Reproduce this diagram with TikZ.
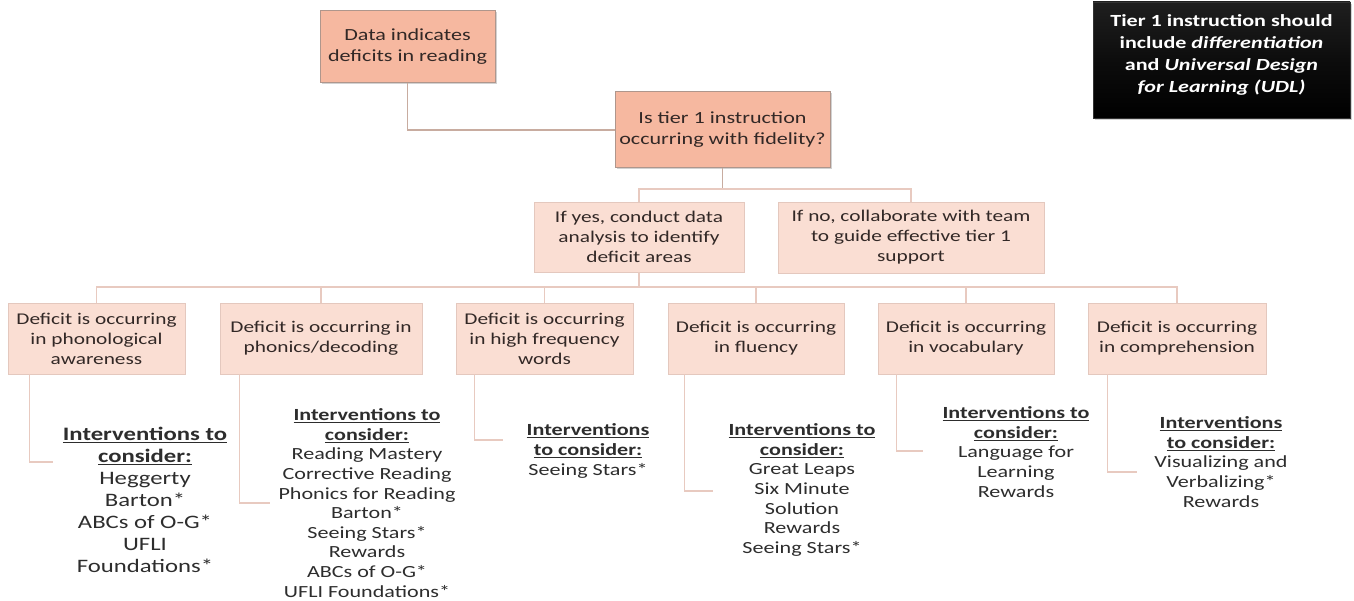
\documentclass[tikz,border=0pt]{standalone}
\usepackage{fontspec}
\setmainfont{Carlito}[FakeStretch=1.3]
\usetikzlibrary{shadows}
\definecolor{topfill}{RGB}{246,184,160}
\definecolor{topdraw}{RGB}{175,150,140}
\definecolor{lowfill}{RGB}{250,222,211}
\definecolor{lowdraw}{RGB}{228,200,190}
\definecolor{conntop}{RGB}{200,172,160}
\definecolor{connlow}{RGB}{232,202,192}
\definecolor{boxtext}{RGB}{50,40,38}
\definecolor{inttext}{RGB}{45,45,45}
\tikzset{
  topbox/.style={draw=topdraw, fill=topfill, line width=1pt, inner sep=0pt, align=center,
    text=boxtext, font=\fontsize{17}{21}\selectfont,
    drop shadow={opacity=0.35, shadow xshift=1.5pt, shadow yshift=-1.5pt}},
  lowbox/.style={draw=lowdraw, fill=lowfill, line width=0.8pt, inner sep=0pt, align=center,
    text=boxtext, font=\fontsize{16.4}{20}\selectfont},
  conna/.style={draw=conntop, line width=1.4pt},
  connb/.style={draw=connlow, line width=1.4pt},
  inter/.style={align=center, text=inttext, inner sep=0pt, font=\fontsize{17}{19.6}\selectfont},
  interbig/.style={align=center, text=inttext, inner sep=0pt, font=\fontsize{19}{22}\selectfont},
  notebox/.style={draw=black!80, top color=black!88, bottom color=black, middle color=black!95,
    line width=0.6pt, inner sep=0pt,
    drop shadow={opacity=0.35, shadow xshift=2pt, shadow yshift=-2pt}},
  notetext/.style={label distance=0pt, yshift=5pt, inner sep=0pt, align=center, text=white,
    font=\bfseries\fontsize{17}{21.7}\selectfont}
}
\newcommand{\hd}[1]{\textbf{\underline{#1}}}
\begin{document}
\begin{tikzpicture}[x=1pt,y=-1pt]
\useasboundingbox (0,0) rectangle (1354,601);
\fill[white] (0,0) rectangle (1354,601);

% top boxes
\node[topbox, minimum width=175pt, minimum height=72pt] (data) at (407.5,47) {Data indicates\\deficits in reading};
\node[topbox, minimum width=215pt, minimum height=76pt] (q) at (722.5,130) {Is tier 1 instruction\\occurring with fidelity?};

% note box
\node[notebox, minimum width=257pt, minimum height=116pt,
  label={[notetext]center:Tier 1 instruction should\\include \textit{differentiation}\\and \textit{Universal Design}\\\textit{for Learning (UDL)}}] (note) at (1221.5,60) {};

% second row
\node[lowbox, minimum width=210pt, minimum height=70pt] (yes) at (639,237) {If yes, conduct data\\analysis to identify\\deficit areas};
\node[lowbox, minimum width=266pt, minimum height=71pt] (no) at (911,237.5) {If no, collaborate with team\\to guide effective tier 1\\support};

% deficit row
\node[lowbox, minimum width=177pt, minimum height=71pt] (d1) at (96.5,338.5) {Deficit is occurring\\in phonological\\awareness};
\node[lowbox, minimum width=202pt, minimum height=71pt] (d2) at (321,338.5) {Deficit is occurring in\\phonics/decoding};
\node[lowbox, minimum width=177pt, minimum height=71pt] (d3) at (544.5,338.5) {Deficit is occurring\\in high frequency\\words};
\node[lowbox, minimum width=176pt, minimum height=71pt] (d4) at (756,338.5) {Deficit is occurring\\in fluency};
\node[lowbox, minimum width=176pt, minimum height=71pt] (d5) at (966,338.5) {Deficit is occurring\\in vocabulary};
\node[lowbox, minimum width=178pt, minimum height=71pt] (d6) at (1177,338.5) {Deficit is occurring\\in comprehension};

% connectors top
\coordinate (h1) at (0,189);
\coordinate (h2) at (0,287);
\draw[conna] (data.south) |- (q.west);
\draw[conna] (q.south) -- (q.south |- h1);
\draw[connb] (yes.north) |- (no.north |- h1) -- (no.north);
\draw[connb] (yes.south) -- (yes.south |- h2);
\draw[connb] (d1.north) |- (d6.north |- h2) -- (d6.north);
\foreach \d in {d2,d3,d4,d5} \draw[connb] (\d.north) -- (\d.north |- h2);

% interventions
\node[interbig] (i1) at (145,500) {\hd{Interventions to}\\\hd{consider:}\\Heggerty\\Barton*\\ABCs of O-G*\\UFLI\\Foundations*};
\node[inter] (i2) at (367,503) {\hd{Interventions to}\\\hd{consider:}\\Reading Mastery\\Corrective Reading\\Phonics for Reading\\Barton*\\Seeing Stars*\\Rewards\\ABCs of O-G*\\UFLI Foundations*};
\node[inter] (i3) at (588,451) {\hd{Interventions}\\\hd{to consider:}\\Seeing Stars*};
\node[inter] (i4) at (802,490) {\hd{Interventions to}\\\hd{consider:}\\Great Leaps\\Six Minute\\Solution\\Rewards\\Seeing Stars*};
\node[inter] (i5) at (1016,452) {\hd{Interventions to}\\\hd{consider:}\\Language for\\Learning\\Rewards};
\node[inter] (i6) at (1221,462) {\hd{Interventions}\\\hd{to consider:}\\Visualizing and\\Verbalizing*\\Rewards};

% brackets
\coordinate (e1) at (53,462);
\coordinate (e2) at (270,503);
\coordinate (e3) at (503,440);
\coordinate (e4) at (713,491);
\coordinate (e5) at (923,451);
\coordinate (e6) at (1137,472);
\draw[connb] (d1.south west) ++(22,0) |- (e1);
\draw[connb] (d2.south west) ++(20,0) |- (e2);
\draw[connb] (d3.south west) ++(19,0) |- (e3);
\draw[connb] (d4.south west) ++(17,0) |- (e4);
\draw[connb] (d5.south west) ++(19,0) |- (e5);
\draw[connb] (d6.south west) ++(20,0) |- (e6);
\end{tikzpicture}
\end{document}
